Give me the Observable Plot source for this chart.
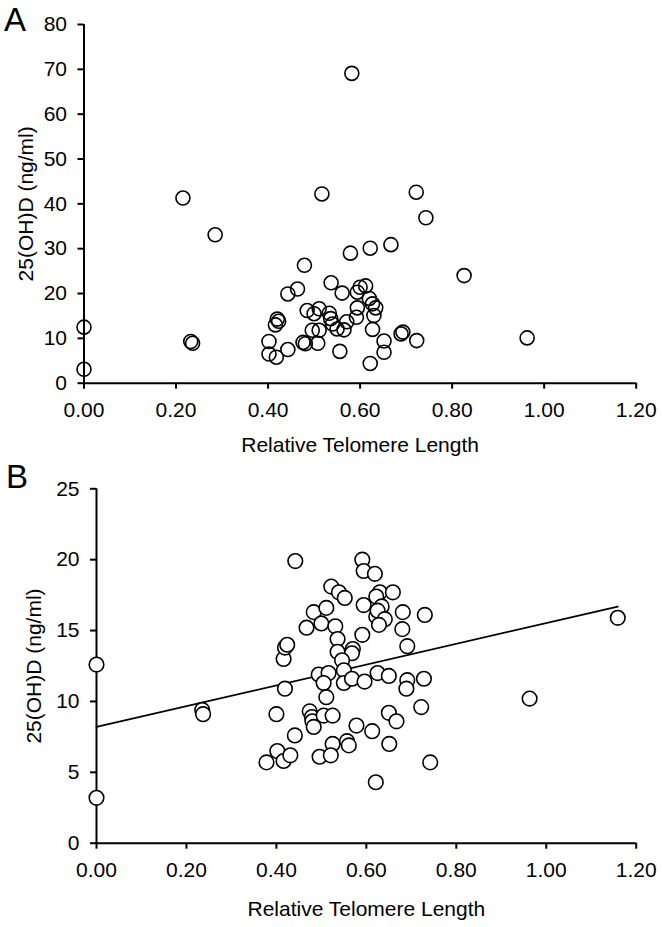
<!DOCTYPE html>
<html><head><meta charset="utf-8">
<script src="https://cdn.jsdelivr.net/npm/d3@7"></script>
<script src="https://cdn.jsdelivr.net/npm/@observablehq/plot@0.6"></script>
<style>
body{margin:0;background:#fff;font-family:"Liberation Sans",Arial,sans-serif;}
#wrap{position:relative;width:662px;height:927px;overflow:hidden;}
.panel{position:absolute;left:0;}
.tag{position:absolute;font-size:33px;line-height:36px;color:#000;}
</style></head><body>
<div id="wrap">
  <div class="panel" id="pa" style="top:0px"></div>
  <div class="panel" id="pb" style="top:460px"></div>
  <div class="tag" style="left:4px;top:2px">A</div>
  <div class="tag" style="left:6px;top:459px">B</div>
</div>
<script>
// ---- Panel A data: Relative telomere length vs 25(OH)D (ng/ml)
const aX = [0.000,0.000,0.215,0.285,0.232,0.236,0.582,0.517,0.722,0.743,
  0.667,0.622,0.579,0.479,0.826,0.537,0.443,0.464,0.561,0.594,0.600,0.612,
  0.620,0.627,0.634,0.630,0.594,0.592,0.485,0.511,0.500,0.533,0.536,0.540,0.571,
  0.565,0.550,0.511,0.496,0.627,0.420,0.423,0.416,
  0.402,0.402,0.418,0.443,0.476,0.481,0.508,0.556,0.622,0.652,0.652,0.689,0.693,0.723,0.963];
const aY = [12.5,3.1,41.3,33.1,9.3,8.9,69.1,42.2,42.6,36.9,
  30.9,30.1,29.0,26.3,24.0,22.4,19.9,21.0,20.1,20.3,21.4,21.7,
  18.9,17.7,16.8,15.1,16.8,14.7,16.2,16.6,15.5,15.6,14.4,13.2,13.7,
  11.9,12.1,11.8,11.8,12.0,14.3,13.8,13.0,
  9.3,6.5,5.8,7.5,9.1,8.8,8.9,7.1,4.4,9.4,6.9,11.0,11.4,9.5,10.1];

// ---- Panel B data
const bX = [0.000,0.000,0.235,0.237,0.378,0.400,0.402,0.416,0.431,0.441,
  0.416,0.419,0.424,0.419,0.442,0.467,0.483,0.511,0.500,0.531,
  0.522,0.539,0.552,0.536,0.536,0.570,0.568,0.546,
  0.591,0.591,0.594,0.619,0.630,0.659,0.622,0.594,0.634,0.681,0.730,
  0.622,0.625,0.641,0.628,0.680,0.691,
  0.494,0.516,0.550,0.550,0.568,0.596,0.625,0.650,0.691,0.689,0.728,
  0.505,0.511,0.474,0.479,0.480,0.483,0.505,0.525,
  0.578,0.613,0.650,0.667,0.722,0.525,0.557,0.561,0.651,
  0.496,0.521,0.742,0.621,0.963,1.159];
const bY = [12.6,3.2,9.4,9.1,5.7,9.1,6.5,5.8,6.2,7.6,
  13.0,13.8,14.0,10.9,19.9,15.2,16.3,16.6,15.5,15.3,
  18.1,17.7,17.3,14.4,13.5,13.7,13.4,12.9,
  14.7,20.0,19.2,19.0,17.7,17.7,17.4,16.8,16.7,16.3,16.1,
  16.0,16.4,15.8,15.4,15.1,13.9,
  11.9,12.0,12.2,11.3,11.6,11.4,12.0,11.8,11.5,10.9,11.6,
  11.3,10.3,9.3,8.9,8.6,8.2,9.0,9.0,
  8.3,7.9,9.2,8.6,9.6,7.0,7.2,6.9,7.0,
  6.1,6.2,5.7,4.3,10.2,15.9];
// linear fit shown in panel B
const fitIntercept = 8.2;
const fitSlope = 7.33;

// ---- ticks and labels
const xTicks = [0, 0.2, 0.4, 0.6, 0.8, 1.0, 1.2];
const aYTicks = [0, 10, 20, 30, 40, 50, 60, 70, 80];
const bYTicks = [0, 5, 10, 15, 20, 25];
const xLabel = "Relative Telomere Length";
const yLabel = "25(OH)D (ng/ml)";

const FONT = '"Liberation Sans", Arial, Helvetica, sans-serif';
const style = {fontFamily: FONT, fontSize: "21px", color: "#000", background: "transparent", overflow: "visible"};

const A = aX.map((x, i) => ({x, y: aY[i]}));
const B = bX.map((x, i) => ({x, y: bY[i]}));
const xMaxB = d3.max(bX);
const fitLine = [0, xMaxB].map(x => ({x, y: fitIntercept + fitSlope * x}));

function axes(yTicks, yLabelOffset, xLabelOffset) {
  return [
    Plot.axisX({ticks: xTicks, tickFormat: d3.format(".2f"), tickSize: 6, tickPadding: 13, strokeWidth: 2,
      fontSize: 21, label: xLabel, labelAnchor: "center", labelOffset: xLabelOffset, labelArrow: false}),
    Plot.axisY({ticks: yTicks, tickFormat: d3.format("d"), tickSize: 6, tickPadding: 11, strokeWidth: 2,
      fontSize: 21, label: yLabel, labelAnchor: "center", labelOffset: yLabelOffset, labelArrow: false}),
    Plot.ruleX([0], {strokeWidth: 2}),
    Plot.ruleY([0], {strokeWidth: 2})
  ];
}

const plotA = Plot.plot({
  width: 662, height: 460,
  marginLeft: 83.5, marginRight: 26.3, marginTop: 24, marginBottom: 77.3,
  x: {domain: [0, 1.2]}, y: {domain: [0, 80]},
  style,
  marks: [
    ...axes(aYTicks, 66, 69),
    Plot.dot(A, {x: "x", y: "y", r: 7, stroke: "#000", strokeWidth: 1.6, fill: "none"})
  ]
});
document.getElementById("pa").append(plotA);

const plotB = Plot.plot({
  width: 662, height: 467,
  marginLeft: 96, marginRight: 26.3, marginTop: 28.3, marginBottom: 84.3,
  x: {domain: [0, 1.2]}, y: {domain: [0, 25]},
  style,
  marks: [
    ...axes(bYTicks, 70, 73),
    Plot.line(fitLine, {x: "x", y: "y", stroke: "#000", strokeWidth: 1.8}),
    Plot.dot(B, {x: "x", y: "y", r: 7.3, stroke: "#000", strokeWidth: 1.6, fill: "#fff"})
  ]
});
document.getElementById("pb").append(plotB);
</script>
</body></html>
